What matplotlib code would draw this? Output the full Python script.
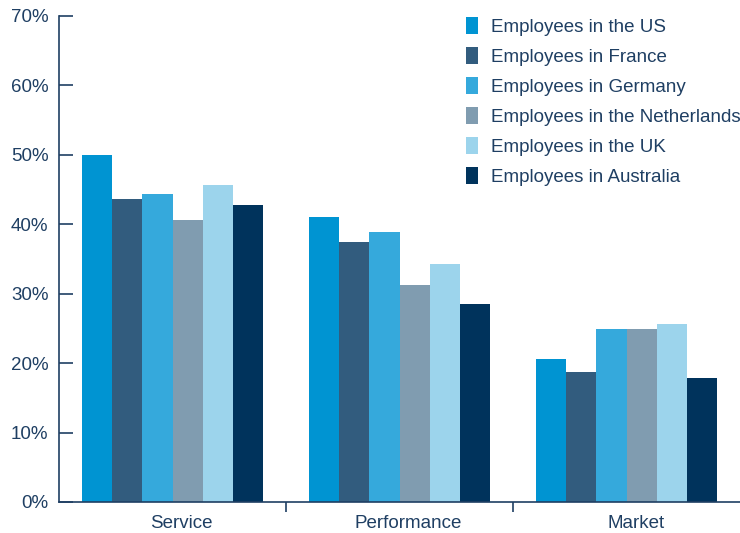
import matplotlib.pyplot as plt
import numpy as np
from matplotlib.patches import Patch

plt.rcParams['font.family'] = ['Liberation Sans', 'DejaVu Sans']

categories = ['Service', 'Performance', 'Market']
series = ['Employees in the US', 'Employees in France', 'Employees in Germany',
          'Employees in the Netherlands', 'Employees in the UK', 'Employees in Australia']
us = [50.0, 41.1, 20.6]
france = [43.6, 37.5, 18.7]
germany = [44.4, 38.9, 24.9]
netherlands = [40.6, 31.3, 24.9]
uk = [45.7, 34.3, 25.6]
australia = [42.8, 28.5, 17.9]
colors = ['#0094d2', '#325c7e', '#35a9dc', '#809cb0', '#9cd4ec', '#00335c']
text_color = '#1f3f63'

values = [us, france, germany, netherlands, uk, australia]

fig = plt.figure(figsize=(7.4, 5.33), dpi=100)
ax = fig.add_axes([59 / 740, 31 / 533, 681 / 740, 486 / 533])

x = np.arange(len(categories))
width = 0.8 / len(series)
for i, (vals, c) in enumerate(zip(values, colors)):
    ax.bar(x - 0.4 + width * (i + 0.5), vals, width, color=c, linewidth=0)

ax.set_xlim(-0.5, 2.5)
ax.set_ylim(0, 70)
ax.set_yticks(range(0, 71, 10))
ax.set_yticklabels([f'{v}%' for v in range(0, 71, 10)], color=text_color, fontsize=13.5)
ax.tick_params(axis='y', direction='in', length=10, width=1.2, color=text_color, pad=7.5)

# group separators as ticks, names as minor labels (sitting a touch right of centre)
ax.set_xticks([0.5, 1.5])
ax.set_xticklabels([])
ax.tick_params(axis='x', which='major', direction='out', length=7, width=1.2, color=text_color)
ax.set_xticks(x + 0.04, minor=True)
ax.set_xticklabels(categories, minor=True, color=text_color, fontsize=13.5)
ax.tick_params(axis='x', which='minor', length=0, pad=9)

for s in ['top', 'right']:
    ax.spines[s].set_visible(False)
for s in ['left', 'bottom']:
    ax.spines[s].set_color(text_color)
    ax.spines[s].set_linewidth(1.2)

handles = [Patch(facecolor=c, edgecolor='none') for c in colors]
leg = ax.legend(handles, series, loc='upper right', bbox_to_anchor=(1.012, 1.013),
                borderaxespad=0, frameon=False, fontsize=13.5, handlelength=0.65,
                handleheight=1.0, handletextpad=0.7, labelspacing=0.6)
for t in leg.get_texts():
    t.set_color(text_color)

fig.savefig('out.png', dpi=100)
